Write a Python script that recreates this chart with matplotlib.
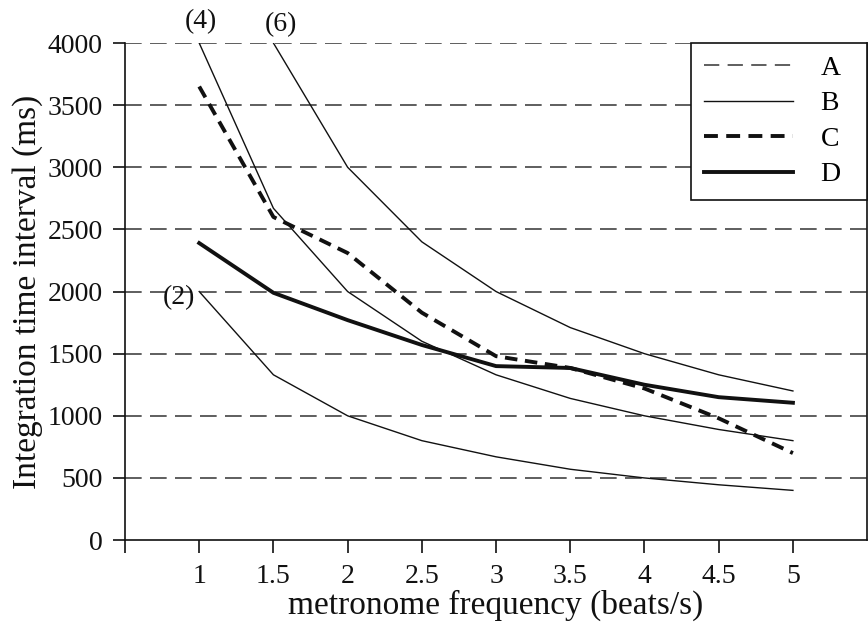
import matplotlib
matplotlib.use("Agg")
import matplotlib.pyplot as plt
from matplotlib.lines import Line2D

plt.rcParams['font.family'] = ['Liberation Serif', 'DejaVu Serif']
plt.rcParams['lines.scale_dashes'] = False

# metronome frequency (beats/s)
freq = [1, 1.5, 2, 2.5, 3, 3.5, 4, 4.5, 5]

# B: thin solid curves, labelled (2), (4), (6)
b2 = [2000, 1330, 1000, 800, 670, 570, 500, 445, 400]
b4 = [4000, 2670, 2000, 1600, 1330, 1140, 1000, 890, 800]
freq6 = [1.5, 2, 2.5, 3, 3.5, 4, 4.5, 5]
b6 = [4000, 3000, 2400, 2000, 1710, 1500, 1330, 1200]

# C: thick dashed, D: thick solid
c_vals = [3650, 2600, 2310, 1830, 1480, 1385, 1220, 980, 700]
d_vals = [2390, 1990, 1770, 1570, 1400, 1385, 1250, 1150, 1105]

# A: horizontal dashed reference lines
a_levels = [500, 1000, 1500, 2000, 2500, 3000, 3500, 4000]

y_ticks = [0, 500, 1000, 1500, 2000, 2500, 3000, 3500, 4000]
x_ticks = [0.5, 1, 1.5, 2, 2.5, 3, 3.5, 4, 4.5, 5]
x_labels = ['', '1', '1.5', '2', '2.5', '3', '3.5', '4', '4.5', '5']
legend_labels = ['A', 'B', 'C', 'D']

ink = '#111111'
grid_col = '#333333'

fig = plt.figure(figsize=(8.68, 6.28), dpi=100)
ax = fig.add_axes([0.144, 0.140, 0.855, 0.7915])

for lvl in a_levels:
    ax.axhline(lvl, color=grid_col, lw=1.1, dashes=(12, 6), zorder=1)

ax.plot(freq, b2, color=ink, lw=1.0, zorder=2)
ax.plot(freq, b4, color=ink, lw=1.0, zorder=2)
ax.plot(freq6, b6, color=ink, lw=1.0, zorder=2)
ax.plot(freq, c_vals, color=ink, lw=2.8, dashes=(9, 5.5), zorder=3)
ax.plot(freq, d_vals, color=ink, lw=2.8, zorder=3)

ax.text(0.865, 1955, '(2)', fontsize=20, ha='center', va='center', color=ink)
ax.text(1.01, 4170, '(4)', fontsize=20, ha='center', va='center', color=ink, clip_on=False)
ax.text(1.55, 4145, '(6)', fontsize=20, ha='center', va='center', color=ink, clip_on=False)

ax.set_xlim(0.5, 5.5)
ax.set_ylim(0, 4000)
ax.set_xticks(x_ticks)
ax.set_xticklabels(x_labels)
ax.set_yticks(y_ticks)
ax.tick_params(axis='both', direction='out', length=9, width=1.2, color=ink,
               labelsize=20, labelcolor=ink)
ax.tick_params(axis='y', pad=7)
ax.tick_params(axis='x', pad=8)

ax.spines['top'].set_visible(False)
for s in ['left', 'bottom', 'right']:
    ax.spines[s].set_color(ink)
    ax.spines[s].set_linewidth(1.2)

ax.set_xlabel('metronome frequency (beats/s)', fontsize=24, color=ink, labelpad=1)
ax.set_ylabel('Integration time interval (ms)', fontsize=24, color=ink, labelpad=3)

handles = [
    Line2D([], [], color=grid_col, lw=1.1, dashes=(11, 6)),
    Line2D([], [], color=ink, lw=1.0),
    Line2D([], [], color=ink, lw=2.8, dashes=(10, 6)),
    Line2D([], [], color=ink, lw=2.8),
]
# trailing spaces give the wider right margin of the original legend box
leg = ax.legend(handles, [s + '  ' for s in legend_labels], loc='upper right',
                bbox_to_anchor=(1.0, 1.0), borderaxespad=0, fontsize=20,
                fancybox=False, framealpha=1, edgecolor=ink, handlelength=3.2,
                handletextpad=1.0, labelspacing=0.36, borderpad=0.45)
leg.get_frame().set_linewidth(1.2)

fig.savefig('out.png', dpi=100)
